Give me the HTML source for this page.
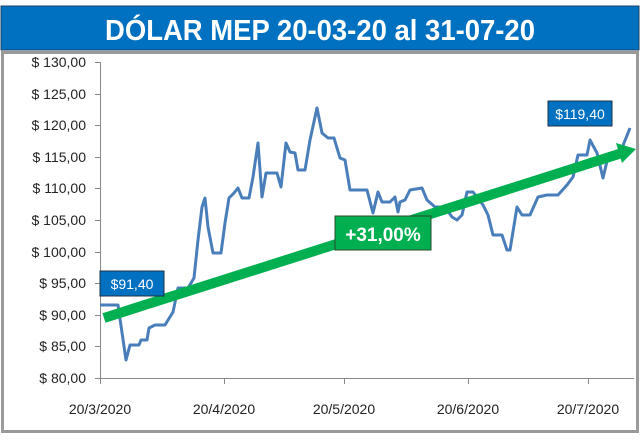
<!DOCTYPE html>
<html><head><meta charset="utf-8"><style>
body{margin:0;background:#fff;width:640px;height:436px;overflow:hidden;font-family:"Liberation Sans",sans-serif}
</style></head><body>
<svg width="640" height="436" xmlns="http://www.w3.org/2000/svg">
<rect x="0" y="0" width="640" height="436" fill="#fff"/>
<rect x="1" y="6" width="638" height="44" fill="#0070c0" stroke="#1f3f66" stroke-width="1"/>
<text x="320" y="40" text-anchor="middle" fill="#fff" font-size="29" font-weight="bold" font-family="Liberation Sans, sans-serif" textLength="430" lengthAdjust="spacingAndGlyphs">DÓLAR MEP 20-03-20 al 31-07-20</text>
<rect x="2.5" y="52.5" width="635" height="379" fill="#fff" stroke="#9a9a9a" stroke-width="3"/>
<g stroke="#888" stroke-width="1" fill="none">
<line x1="100.5" y1="62" x2="100.5" y2="378"/>
<line x1="100" y1="378.5" x2="634" y2="378.5"/>
<line x1="95" y1="62.5" x2="100" y2="62.5"/><line x1="95" y1="94.5" x2="100" y2="94.5"/>
<line x1="95" y1="125.5" x2="100" y2="125.5"/><line x1="95" y1="157.5" x2="100" y2="157.5"/>
<line x1="95" y1="188.5" x2="100" y2="188.5"/><line x1="95" y1="220.5" x2="100" y2="220.5"/>
<line x1="95" y1="252.5" x2="100" y2="252.5"/><line x1="95" y1="283.5" x2="100" y2="283.5"/>
<line x1="95" y1="315.5" x2="100" y2="315.5"/><line x1="95" y1="346.5" x2="100" y2="346.5"/>
<line x1="95" y1="378.5" x2="100" y2="378.5"/>
<line x1="100.5" y1="378" x2="100.5" y2="384"/><line x1="224.5" y1="378" x2="224.5" y2="384"/>
<line x1="344.5" y1="378" x2="344.5" y2="384"/><line x1="468.5" y1="378" x2="468.5" y2="384"/>
<line x1="588.5" y1="378" x2="588.5" y2="384"/>
</g>
<g font-size="14" fill="#222" text-anchor="end">
<text x="86" y="67">$ 130,00</text><text x="86" y="99">$ 125,00</text>
<text x="86" y="130">$ 120,00</text><text x="86" y="162">$ 115,00</text>
<text x="86" y="193">$ 110,00</text><text x="86" y="225">$ 105,00</text>
<text x="86" y="257">$ 100,00</text><text x="86" y="288">$ 95,00</text>
<text x="86" y="320">$ 90,00</text><text x="86" y="351">$ 85,00</text>
<text x="86" y="383">$ 80,00</text>
</g>
<g font-size="14" fill="#222" text-anchor="middle">
<text x="100" y="414">20/3/2020</text><text x="224" y="414">20/4/2020</text>
<text x="344" y="414">20/5/2020</text><text x="468" y="414">20/6/2020</text>
<text x="588" y="414">20/7/2020</text>
</g>
<polyline fill="none" stroke="#4a7ebb" stroke-width="3" stroke-linejoin="round" points="100,305 118,305 126,360 130,345 139,345 141,340 147,340 149,328 155,325 165,325 173,312 178,288 188,288 194,278 198,240 202,207 205,198 208,227 213,253 221,253 225,223 229,198 234,193 238,188 242,198 249,198 253,177 258,143 262,197 266,173 277,173 281,187 286,143 290,152 295,153 298,170 305,170 310,140 317,108 322,133 328,138 334,138 340,158 345,160 350,190 356,190 362,190 367,190 373,213 378,192 382,202 390,202 395,197 398,212 400,202 405,200 410,190 422,188 427,200 435,207 445,207 452,217 457,220 462,215 467,192 473,192 483,205 488,215 493,235 502,235 507,250 510,250 517,207 522,215 530,215 538,197 547,195 558,195 567,185 573,177 578,155 587,155 590,140 597,153 603,178 608,157 622,148 630,128"/>
<line x1="104" y1="318" x2="622" y2="153" stroke="#00b050" stroke-width="10"/>
<polygon points="636,149 616,143 622,163" fill="#00b050"/>
<rect x="335" y="216" width="96" height="34" fill="#00b050" stroke="#2a4a2a" stroke-width="1"/>
<text x="383" y="241" text-anchor="middle" fill="#fff" font-size="19" font-weight="bold">+31,00%</text>
<rect x="100" y="271" width="64" height="25" fill="#0070c0" stroke="#1f2f44" stroke-width="1"/>
<text x="132" y="289" text-anchor="middle" fill="#fff" font-size="14">$91,40</text>
<rect x="548" y="101" width="64" height="25" fill="#0070c0" stroke="#1f2f44" stroke-width="1"/>
<text x="580" y="119" text-anchor="middle" fill="#fff" font-size="14">$119,40</text>
</svg>
</body></html>
